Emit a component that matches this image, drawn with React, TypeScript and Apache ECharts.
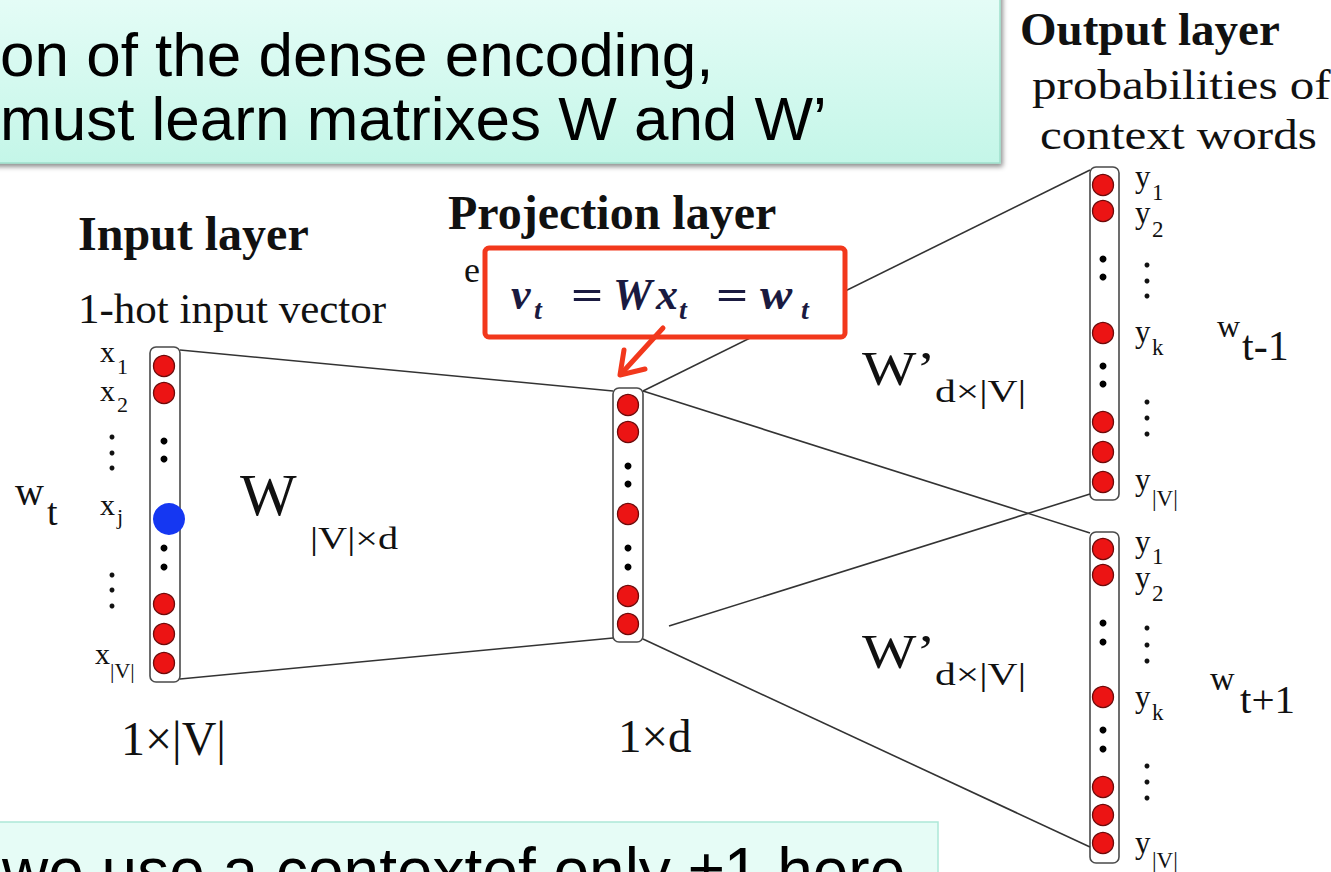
import React, { useEffect, useRef } from "react";
import * as echarts from "echarts";

const SERIF = '"Liberation Serif", "Times New Roman", serif';
const SANS = '"Liberation Sans", Arial, sans-serif';

// ---- layer nodes (x centre, y centres) ----
const inputX = 164;
const inputRed = [366, 393, 604, 634, 663];
const inputDots = [441, 459, 548, 567];
const inputHot = [[169, 519]];
const projX = 628;
const projRed = [405, 432, 514, 596, 624];
const projDots = [466, 484, 548, 567];
const outX = 1103;
const out1Red = [185, 211, 333, 422, 452, 482];
const out1Dots = [259, 277, 366, 384];
const out2Red = [549, 575, 697, 787, 815, 843];
const out2Dots = [623, 642, 730, 749];
const inLabelDotX = 112;
const inLabelDots = [437, 453, 468, 575, 590, 606];
const outLabelDotX = 1147;
const out1LabelDots = [265, 281, 296, 402, 418, 434];
const out2LabelDots = [628, 645, 661, 766, 782, 798];

// ---- connections ----
const links = [
  [[180, 350], [613, 391]],
  [[180, 679], [613, 638]],
  [[643, 391], [1090, 170]],
  [[643, 391], [1090, 533]],
  [[669, 626], [1090, 494]],
  [[643, 639], [1090, 847]],
];

// ---- texts ----
const headerLines = ["on of the dense encoding,", "must learn matrixes W and W\u2019"];
const footerText = "we use a contextof only \u00b11 here";
const formulaParts = [
  { t: "v", sub: false, x: 511 },
  { t: "t", sub: true, x: 534 },
  { t: "=", sub: false, x: 571, eq: true },
  { t: "W", sub: false, x: 613 },
  { t: "x", sub: false, x: 656 },
  { t: "t", sub: true, x: 679 },
  { t: "=", sub: false, x: 716, eq: true },
  { t: "w", sub: false, x: 760 },
  { t: "t", sub: true, x: 801 },
];

function txt(text: string, x: number, bl: number, size: number, o: any = {}) {
  const fam = o.sans ? SANS : SERIF;
  return {
    type: "text",
    x,
    y: bl - 0.34 * size,
    scaleX: o.sx ?? 1,
    scaleY: o.sy ?? 1,
    z: o.z ?? 5,
    silent: true,
    style: {
      text,
      fill: o.color ?? "#111",
      font: `${o.italic ? "italic " : ""}${o.bold ? "bold " : ""}${size}px ${fam}`,
      align: "left",
      verticalAlign: "middle",
    },
  };
}

function boxRect(x: number, y: number, w: number, h: number) {
  return {
    type: "rect",
    z: 1,
    silent: true,
    shape: { x, y, width: w, height: h, r: 6 },
    style: { fill: "#fff", stroke: "#4a4a4a", lineWidth: 1.6 },
  };
}

export default function App() {
  const ref = useRef<HTMLDivElement>(null);
  useEffect(() => {
    if (!ref.current) return;
    const chart = echarts.init(ref.current, undefined, { renderer: "svg" });

    const redPts = [
      ...inputRed.map((y) => [inputX, y]),
      ...projRed.map((y) => [projX, y]),
      ...out1Red.map((y) => [outX, y]),
      ...out2Red.map((y) => [outX, y]),
    ];
    const blackPts = [
      ...inputDots.map((y) => [inputX, y]),
      ...projDots.map((y) => [projX, y]),
      ...out1Dots.map((y) => [outX, y]),
      ...out2Dots.map((y) => [outX, y]),
    ];
    const labelDots = [
      ...inLabelDots.map((y) => [inLabelDotX, y]),
      ...out1LabelDots.map((y) => [outLabelDotX, y]),
      ...out2LabelDots.map((y) => [outLabelDotX, y]),
    ];

    const graphic: any[] = [];
    // header box
    graphic.push({
      type: "rect",
      z: 0,
      silent: true,
      shape: { x: -20, y: -20, width: 1020, height: 183 },
      style: {
        fill: new echarts.graphic.LinearGradient(0, 0, 0, 1, [
          { offset: 0, color: "#e8fdf8" },
          { offset: 1, color: "#c4f6e8" },
        ]),
        stroke: "#9edfcb",
        lineWidth: 1.5,
        shadowBlur: 5,
        shadowOffsetX: 2,
        shadowOffsetY: 3,
        shadowColor: "rgba(0,0,0,0.45)",
      },
    });
    graphic.push(txt(headerLines[0], 0, 76, 62, { sans: true, color: "#000" }));
    graphic.push(txt(headerLines[1], 0, 140, 62, { sans: true, color: "#000" }));
    // footer box
    graphic.push({
      type: "rect",
      z: 0,
      silent: true,
      shape: { x: -20, y: 822, width: 958, height: 80 },
      style: { fill: "#e6fcf6", stroke: "#ade8d8", lineWidth: 1.5 },
    });
    graphic.push(txt(footerText, 2, 893, 64, { sans: true, color: "#000" }));

    // layer rects
    graphic.push(boxRect(150, 347, 30, 335));
    graphic.push(boxRect(613, 388, 30, 254));
    graphic.push(boxRect(1090, 167, 29, 333));
    graphic.push(boxRect(1090, 532, 29, 331));

    // headings
    graphic.push(txt("Input layer", 78, 250, 48, { bold: true }));
    graphic.push(txt("1-hot input vector", 78, 323, 43));
    graphic.push(txt("Projection layer", 448, 229, 48, { bold: true }));
    graphic.push(txt("e", 464, 282, 36));
    graphic.push(txt("Output layer", 1020, 45, 47, { bold: true }));
    graphic.push(txt("probabilities of", 1032, 99, 42, { sx: 1.17 }));
    graphic.push(txt("context words", 1040, 149, 42, { sx: 1.17 }));

    // input labels
    const xl = (sub: string, bl: number, sbl: number, xx = 100, sx = 117) => {
      graphic.push(txt("x", xx, bl, 30));
      graphic.push(txt(sub, sx, sbl, 22));
    };
    xl("1", 362, 374);
    xl("2", 401, 412);
    xl("j", 515, 524);
    xl("|V|", 664, 678, 95, 110);

    // output labels
    const yl = (sub: string, bl: number, sbl: number) => {
      graphic.push(txt("y", 1135, bl, 31));
      graphic.push(txt(sub, 1152, sbl, 23));
    };
    yl("1", 187, 200);
    yl("2", 223, 237);
    yl("k", 342, 355);
    yl("|V|", 490, 506);
    yl("1", 552, 564);
    yl("2", 588, 601);
    yl("k", 707, 720);
    yl("|V|", 853, 868);

    // word labels
    graphic.push(txt("w", 15, 505, 40));
    graphic.push(txt("t", 47, 525, 38));
    graphic.push(txt("w", 1217, 337, 32));
    graphic.push(txt("t-1", 1242, 360, 42));
    graphic.push(txt("w", 1210, 690, 34));
    graphic.push(txt("t+1", 1240, 713, 41));

    // weight matrices
    graphic.push(txt("W", 240, 515, 60));
    graphic.push(txt("|V|\u00d7d", 310, 549, 31, { sx: 1.3 }));
    graphic.push(txt("W\u2019", 862, 385, 48, { sx: 1.2 }));
    graphic.push(txt("d\u00d7|V|", 935, 402, 32, { sx: 1.3 }));
    graphic.push(txt("W\u2019", 862, 668, 48, { sx: 1.2 }));
    graphic.push(txt("d\u00d7|V|", 935, 685, 32, { sx: 1.3 }));

    // dims
    graphic.push(txt("1\u00d7|V|", 121, 755, 48));
    graphic.push(txt("1\u00d7d", 618, 752, 47));

    // formula box
    graphic.push({
      type: "rect",
      z: 10,
      silent: true,
      shape: { x: 485, y: 248, width: 360, height: 89, r: 4 },
      style: { fill: "#fff", stroke: "#f2381c", lineWidth: 5 },
    });
    formulaParts.forEach((p: any) => {
      if (p.sub) graphic.push(txt(p.t, p.x, 319, 28, { italic: true, bold: true, color: "#1a1a40", z: 11 }));
      else if (p.eq) graphic.push(txt(p.t, p.x, 309, 42, { bold: true, color: "#1a1a40", z: 11, sx: 1.35 }));
      else graphic.push(txt(p.t, p.x, 309, 44, { italic: true, bold: true, color: "#1a1a40", z: 11, sx: p.t === "w" ? 1.1 : 1 }));
    });
    // red arrow
    graphic.push({
      type: "line",
      z: 10,
      silent: true,
      shape: { x1: 663, y1: 328, x2: 621, y2: 374 },
      style: { stroke: "#f2381c", lineWidth: 5, lineCap: "round" },
    });
    graphic.push({
      type: "polyline",
      z: 10,
      silent: true,
      shape: { points: [[624, 350], [620, 375], [645, 369]] },
      style: { stroke: "#f2381c", lineWidth: 5, lineCap: "round", lineJoin: "round", fill: "none" },
    });

    const option: any = {
      animation: false,
      backgroundColor: "#ffffff",
      grid: { left: 0, top: 0, width: 1331, height: 872 },
      xAxis: { type: "value", min: 0, max: 1331, show: false },
      yAxis: { type: "value", min: 0, max: 872, inverse: true, show: false },
      series: [
        {
          type: "lines",
          coordinateSystem: "cartesian2d",
          z: 2,
          silent: true,
          lineStyle: { color: "#333", width: 1.6, opacity: 1, curveness: 0 },
          data: links.map((c) => ({ coords: c })),
        },
        {
          type: "scatter",
          z: 3,
          silent: true,
          symbolSize: 21,
          itemStyle: { color: "#ec1414", borderColor: "#6e0a0a", borderWidth: 1.3, opacity: 1 },
          data: redPts,
        },
        {
          type: "scatter",
          z: 3,
          silent: true,
          symbolSize: 7,
          itemStyle: { color: "#000", opacity: 1 },
          data: blackPts,
        },
        {
          type: "scatter",
          z: 3,
          silent: true,
          symbolSize: 5,
          itemStyle: { color: "#111", opacity: 1 },
          data: labelDots,
        },
        {
          type: "scatter",
          z: 4,
          silent: true,
          symbolSize: 32,
          itemStyle: { color: "#1537f2", opacity: 1 },
          data: inputHot,
        },
      ],
      graphic: { elements: graphic },
    };
    chart.setOption(option);
    return () => chart.dispose();
  }, []);
  return (
    <div
      ref={ref}
      style={{ position: "absolute", left: 0, top: 0, width: 1331, height: 872, background: "#fff" }}
    />
  );
}
